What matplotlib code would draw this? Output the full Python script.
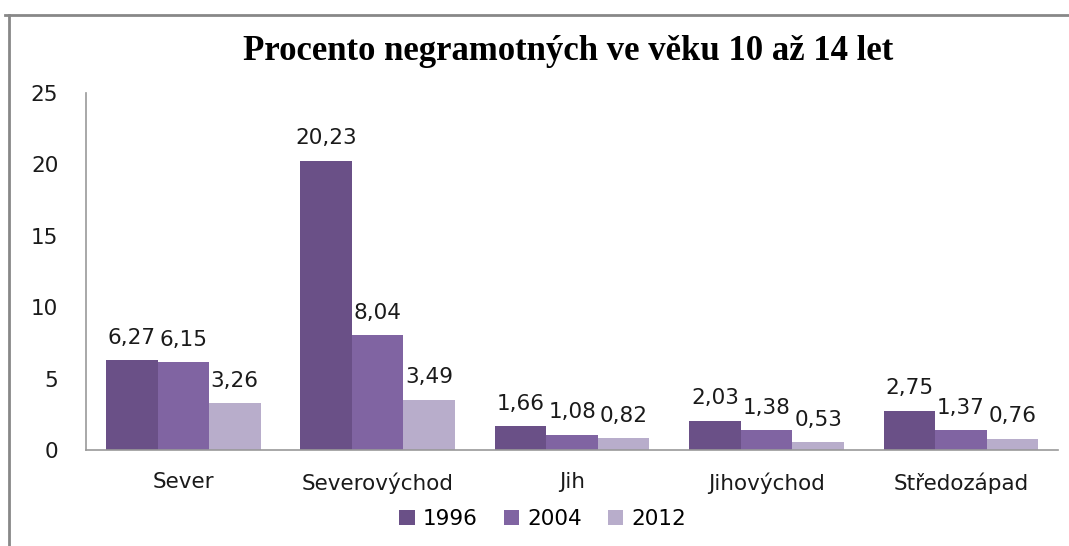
import matplotlib
matplotlib.use("Agg")
import matplotlib.pyplot as plt
import numpy as np
from matplotlib.lines import Line2D

categories = ["Sever", "Severovýchod", "Jih", "Jihovýchod", "Středozápad"]
years = ["1996", "2004", "2012"]
v1996 = [6.27, 20.23, 1.66, 2.03, 2.75]
v2004 = [6.15, 8.04, 1.08, 1.38, 1.37]
v2012 = [3.26, 3.49, 0.82, 0.53, 0.76]
yticks = [0, 5, 10, 15, 20, 25]
colors = ["#6A5087", "#8064A2", "#B8ADCB"]

fig = plt.figure(figsize=(10.69, 5.46), dpi=100)
fig.patch.set_facecolor("white")
ax = fig.add_axes([0.0805, 0.1758, 0.9095, 0.654])

font = "DejaVu Sans"
fs = 15.5
x = np.arange(len(categories))
w = 0.265
series = [v1996, v2004, v2012]
for i, (vals, col, yr) in enumerate(zip(series, colors, years)):
    bars = ax.bar(x + (i - 1) * w, vals, width=w, color=col, label=yr, zorder=2)
    for b, v in zip(bars, vals):
        ax.annotate(f"{v:.2f}".replace(".", ","), (b.get_x() + b.get_width() / 2, v),
                    xytext=(0, 12), textcoords="offset points", ha="center", va="baseline",
                    fontsize=fs, family=font, color="#1a1a1a")

ax.set_xlim(-0.5, 4.5)
ax.set_ylim(0, 25)
ax.set_yticks(yticks)
ax.set_yticklabels([str(t) for t in yticks], family=font, fontsize=fs)
ax.set_xticks(x)
ax.set_xticklabels(categories, family=font, fontsize=fs)
ax.tick_params(length=0, colors="#1a1a1a")
ax.tick_params(axis="y", pad=20)
ax.tick_params(axis="x", pad=16)
for s in ["top", "right"]:
    ax.spines[s].set_visible(False)
for s in ["left", "bottom"]:
    ax.spines[s].set_color("#999999")
    ax.spines[s].set_linewidth(1.2)

fig.text(0.531, 0.905, "Procento negramotných ve věku 10 až 14 let", ha="center", va="center",
         family="Liberation Serif", fontweight="bold", fontsize=25)

leg = ax.legend(loc="upper center", bbox_to_anchor=(0.47, -0.135), ncol=3, frameon=False,
                prop={"family": font, "size": fs}, handlelength=0.7, handleheight=0.7,
                handletextpad=0.4, columnspacing=1.2, borderpad=0)

# frame lines (top and left)
fig.add_artist(Line2D([5 / 1069, 1], [1 - 14.5 / 546] * 2, transform=fig.transFigure, color="#888888", lw=2))
fig.add_artist(Line2D([9 / 1069] * 2, [1 - 14.5 / 546, 0], transform=fig.transFigure, color="#888888", lw=2))

fig.savefig("out.png", dpi=100)
